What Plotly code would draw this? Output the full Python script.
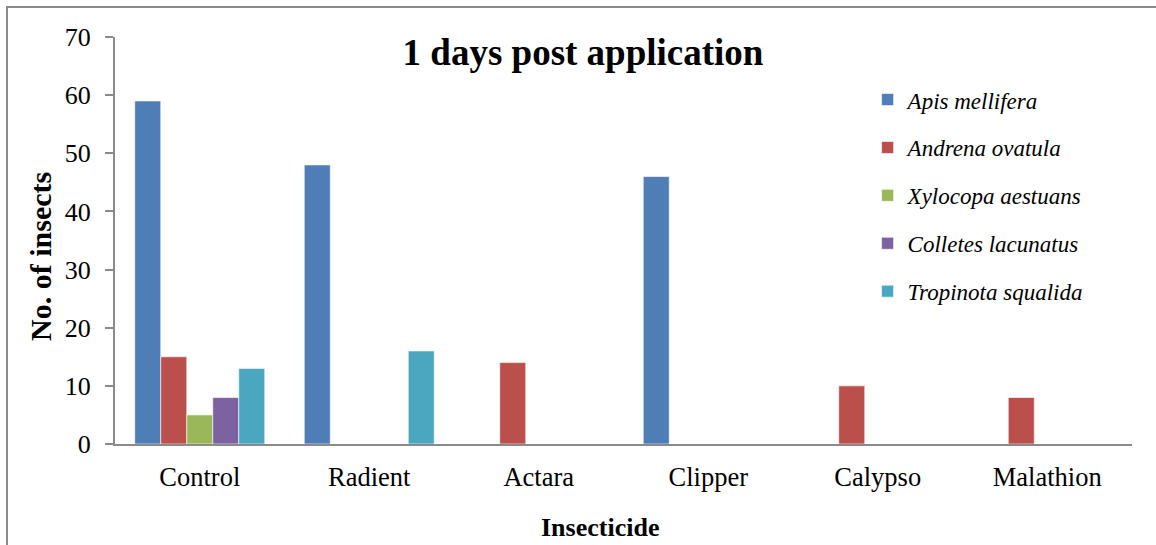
import plotly.graph_objects as go

categories = ["Control", "Radient", "Actara", "Clipper", "Calypso", "Malathion"]
species = ["Apis mellifera", "Andrena ovatula", "Xylocopa aestuans", "Colletes lacunatus", "Tropinota squalida"]
apis = [59, 48, 0, 46, 0, 0]
andrena = [15, 0, 14, 0, 10, 8]
xylocopa = [5, 0, 0, 0, 0, 0]
colletes = [8, 0, 0, 0, 0, 0]
tropinota = [13, 16, 0, 0, 0, 0]
series = [apis, andrena, xylocopa, colletes, tropinota]
colors = ["#4F7DB5", "#BA4F4C", "#9AB75A", "#7E62A0", "#4BA6C0"]

FONT = "Liberation Serif, Times New Roman, serif"

fig = go.Figure()
for i, (name, vals, col) in enumerate(zip(species, series, colors)):
    fig.add_trace(go.Bar(
        x=categories, y=vals, name="<i>%s</i>" % name,
        marker=dict(color=col, line=dict(color="rgba(255,255,255,0.6)", width=1)),
        legendgroup="g%d" % i,
    ))

fig.update_layout(
    width=1156, height=545,
    paper_bgcolor="white", plot_bgcolor="white",
    margin=dict(l=115, r=24, t=37, b=101, autoexpand=False),
    font=dict(family=FONT, color="black"),
    barmode="group", bargap=0.233, bargroupgap=0,
    title=dict(text="<b>1 days post application</b>", x=(583 / 1156), xanchor="center",
               y=1 - 52 / 545, yanchor="middle", font=dict(size=37, family=FONT)),
    legend=dict(x=0.740, y=0.899, xanchor="left", yanchor="top",
                font=dict(size=23, family=FONT), tracegroupgap=15,
                bgcolor="rgba(0,0,0,0)", itemwidth=30),
    xaxis=dict(showline=True, linecolor="#8a8a8a", linewidth=2, ticks="",
               tickfont=dict(size=26.5), showgrid=False, ticklabelstandoff=8),
    yaxis=dict(range=[0, 70], dtick=10, showline=True, linecolor="#8a8a8a", linewidth=2,
               ticks="outside", ticklen=8, tickcolor="#8a8a8a", tickwidth=2,
               showgrid=False, zeroline=False, tickfont=dict(size=26), ticklabelstandoff=9),
)

fig.add_annotation(text="<b>Insecticide</b>", xref="paper", yref="paper",
                   x=0.477, y=-0.204, xanchor="center", yanchor="middle",
                   showarrow=False, font=dict(size=26, family=FONT))
fig.add_annotation(text="<b>No. of insects</b>", xref="paper", yref="paper",
                   x=-0.0728, y=0.462, xanchor="center", yanchor="middle", textangle=-90,
                   showarrow=False, font=dict(size=30, family=FONT))

fig.add_shape(type="rect", xref="paper", yref="paper",
              x0=-0.1062, x1=1.2, y0=-0.4, y1=1.0737,
              line=dict(color="#8a8a8a", width=2), fillcolor="rgba(0,0,0,0)", layer="below")

fig.write_html("out.html", config={"displayModeBar": False},
               post_script="document.body.style.margin='0';")
